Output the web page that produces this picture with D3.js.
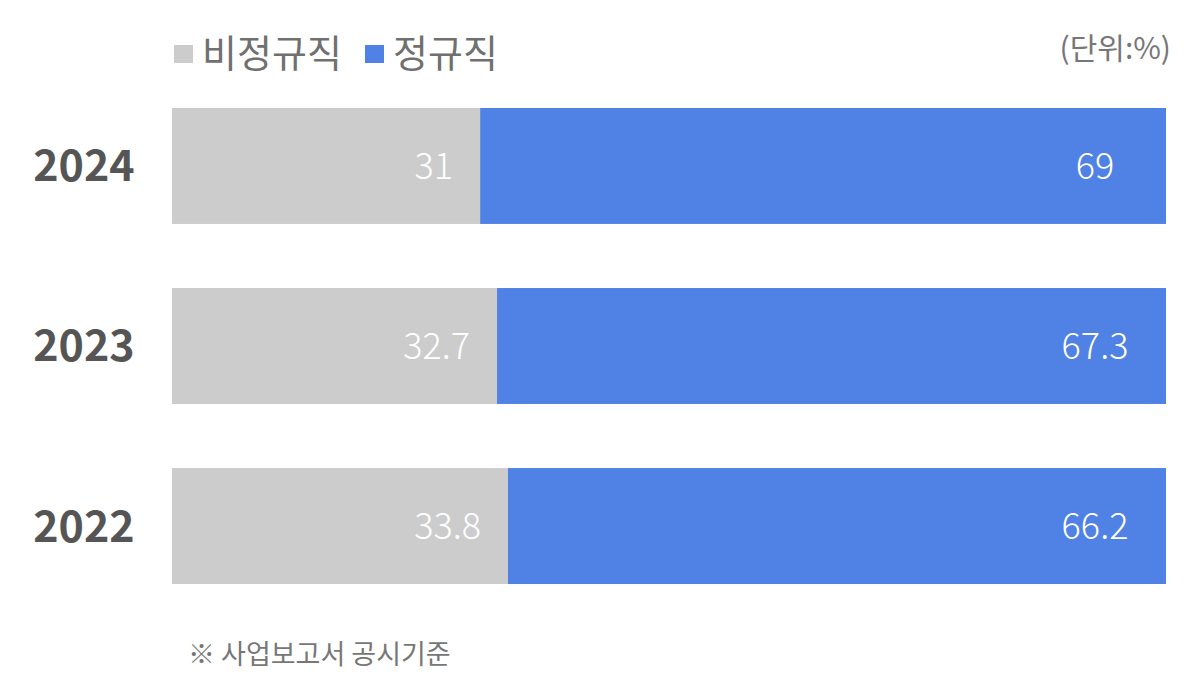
<!DOCTYPE html>
<html>
<head>
<meta charset="utf-8">
<script src="https://cdn.jsdelivr.net/npm/d3@7"></script>
<style>
  body { margin: 0; background: #fff; }
  text { font-family: "Noto Sans CJK KR", "Noto Sans", sans-serif; }
</style>
</head>
<body>
<div id="chart"></div>
<script>
var years = ["2024", "2023", "2022"];
var nonRegular = [31, 32.7, 33.8];
var regular = [69, 67.3, 66.2];
var seriesNames = ["비정규직", "정규직"];
var colors = ["#cccccc", "#5081e4"];

var width = 1200, height = 689;
var svg = d3.select('#chart').append('svg')
  .attr('width', width)
  .attr('height', height);

var xScale = d3.scaleLinear().domain([0, 100]).range([172, 1166]);
var yScale = d3.scaleBand().domain(years).range([108, 584]).paddingInner(0.356).paddingOuter(0);

var rows = years.map(function (y, i) {
  return { year: y, a: nonRegular[i], b: regular[i] };
});

var g = svg.append('g');

// gray segment
g.selectAll('.seg-a').data(rows).enter().append('rect')
  .attr('class', 'seg-a')
  .attr('x', xScale(0))
  .attr('y', function (d) { return yScale(d.year); })
  .attr('width', function (d) { return xScale(d.a) - xScale(0); })
  .attr('height', yScale.bandwidth())
  .attr('fill', colors[0]);

// blue segment
g.selectAll('.seg-b').data(rows).enter().append('rect')
  .attr('class', 'seg-b')
  .attr('x', function (d) { return xScale(d.a); })
  .attr('y', function (d) { return yScale(d.year); })
  .attr('width', function (d) { return xScale(d.a + d.b) - xScale(d.a); })
  .attr('height', yScale.bandwidth())
  .attr('fill', colors[1]);

// value labels
g.selectAll('.lab-a').data(rows).enter().append('text')
  .attr('x', function (d) { return xScale(d.a) - 27; })
  .attr('y', function (d) { return yScale(d.year) + yScale.bandwidth() / 2; })
  .attr('dy', '0.36em')
  .attr('text-anchor', 'end')
  .attr('fill', '#fff')
  .attr('font-size', 36)
  .attr('font-weight', 300)
  .attr('font-family', '"Open Sans", sans-serif')
  .text(function (d) { return d.a; });

g.selectAll('.lab-b').data(rows).enter().append('text')
  .attr('x', function (d) { return xScale(d.a + d.b) - 71; })
  .attr('y', function (d) { return yScale(d.year) + yScale.bandwidth() / 2; })
  .attr('dy', '0.36em')
  .attr('text-anchor', 'middle')
  .attr('fill', '#fff')
  .attr('font-size', 36)
  .attr('font-weight', 300)
  .attr('font-family', '"Open Sans", sans-serif')
  .text(function (d) { return d.b; });

// year labels
g.selectAll('.year').data(years).enter().append('text')
  .attr('x', 84)
  .attr('y', function (d) { return yScale(d) + yScale.bandwidth() / 2; })
  .attr('dy', '0.36em')
  .attr('text-anchor', 'middle')
  .attr('fill', '#555555')
  .attr('font-size', 43)
  .attr('font-weight', 'bold')
  .attr('font-family', '"Open Sans", sans-serif')
  .text(function (d) { return d; });

// legend
var legendX = [174, 365];
var legend = svg.selectAll('.legend').data(seriesNames).enter().append('g')
  .attr('transform', function (d, i) { return 'translate(' + legendX[i] + ',0)'; });
legend.append('rect')
  .attr('x', 0).attr('y', 45)
  .attr('width', 19).attr('height', 18)
  .attr('fill', function (d, i) { return colors[i]; });
legend.append('text')
  .attr('x', 28).attr('y', 67)
  .attr('font-size', 38)
  .attr('fill', '#707070')
  .text(function (d) { return d; });

// unit
svg.append('text')
  .attr('x', 1171).attr('y', 59)
  .attr('text-anchor', 'end')
  .attr('font-size', 30)
  .attr('fill', '#777777')
  .text('(단위:%)');

// footnote
svg.append('text')
  .attr('x', 188).attr('y', 664)
  .attr('font-size', 27)
  .attr('fill', '#777777')
  .text('※ 사업보고서 공시기준');
</script>
</body>
</html>
